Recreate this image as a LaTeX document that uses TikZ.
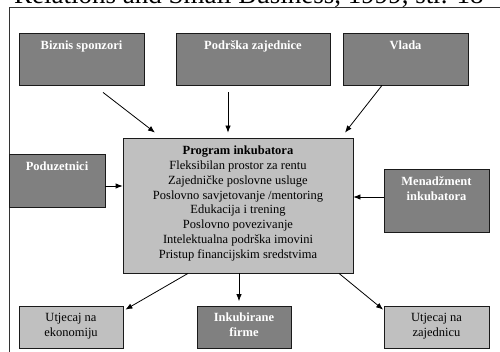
\documentclass[tikz,border=0pt]{standalone}
\usepackage{fontspec}
\setmainfont{Liberation Serif}
\usetikzlibrary{arrows.meta,calc}
\definecolor{darkfill}{HTML}{808080}
\definecolor{lightfill}{HTML}{C0C0C0}
\definecolor{edgecol}{HTML}{1A1A1A}
\newcommand{\fsz}{\fontsize{12.5}{14.8}\selectfont}
\tikzset{
  boxbase/.style={draw=edgecol, line width=0.8pt, inner sep=0pt},
  darkbox/.style={boxbase, fill=darkfill},
  lightbox/.style={boxbase, fill=lightfill},
  hdrtext/.style={anchor=north, inner sep=0pt, align=center, font=\fsz\bfseries, text=white},
  bodytext/.style={anchor=north, inner sep=0pt, align=center, font=\fsz, text=black},
  arr/.style={draw=black, line width=0.8pt, -{Latex[length=7pt,width=5.5pt]}},
  framestyle/.style={draw=black!80, line width=0.9pt}
}
\begin{document}
\begin{tikzpicture}[x=1pt,y=1pt]
\useasboundingbox (0,0) rectangle (500,351);
\clip (0,0) rectangle (500,351);
\fill[white] (0,0) rectangle (500,351);
\node[anchor=base west, inner sep=0pt, font=\fontsize{27}{30}\selectfont] (ttl) at (14,347) {Relations and Small Business, 1999, str. 18};
\draw[framestyle] (9,-5) -- (9,344) -- (505,344);

% top boxes
\node[darkbox, minimum width=125, minimum height=52] (biz) at (81.5,292) {};
\node[darkbox, minimum width=154, minimum height=52] (pod) at (253,292) {};
\node[darkbox, minimum width=125, minimum height=52] (vlada) at (405.5,292) {};
% middle
\node[lightbox, minimum width=230, minimum height=135] (prog) at (238,145.5) {};
\node[darkbox, minimum width=96, minimum height=53] (podu) at (57,170.5) {};
\node[darkbox, minimum width=105, minimum height=63] (men) at (436.5,150.5) {};
% bottom
\node[lightbox, minimum width=104, minimum height=42] (ek) at (71,24) {};
\node[darkbox, minimum width=94, minimum height=42] (ink) at (244,24) {};
\node[lightbox, minimum width=105, minimum height=42] (zaj) at (436.5,24) {};

% texts
\node[hdrtext] (biz-t) at ([yshift=-6.6pt]biz.north) {\strut Biznis sponzori};
\node[hdrtext] (pod-t) at ([yshift=-6.6pt]pod.north) {\strut Podrška zajednice};
\node[hdrtext] (vlada-t) at ([yshift=-6.6pt]vlada.north) {\strut Vlada};
\node[hdrtext] (podu-t) at ([yshift=-6.6pt]podu.north) {\strut Poduzetnici};
\node[hdrtext] (men-t) at ([yshift=-6.6pt]men.north) {\strut Menadžment\\inkubatora};
\node[bodytext] (prog-t) at ([yshift=-6.6pt]prog.north) {\strut\textbf{Program inkubatora}\\Fleksibilan prostor za rentu\\Zajedničke poslovne usluge\\Poslovno savjetovanje /mentoring\\Edukacija i trening\\Poslovno povezivanje\\Intelektualna podrška imovini\\Pristup financijskim sredstvima};
\node[bodytext] (ek-t) at ([yshift=-5.6pt]ek.north) {\strut Utjecaj na\\ekonomiju};
\node[hdrtext] (ink-t) at ([yshift=-5.6pt]ink.north) {\strut Inkubirane\\firme};
\node[bodytext] (zaj-t) at ([yshift=-5.6pt]zaj.north) {\strut Utjecaj na\\zajednicu};

% connectors
\draw[arr] ([xshift=21.5pt,yshift=-7pt]biz.south) -- ([xshift=-83pt,yshift=5pt]prog.north);
\draw[arr] ([xshift=-25pt,yshift=-7pt]pod.south) -- ([xshift=-10pt,yshift=5pt]prog.north);
\draw[arr] ([xshift=-23.5pt]vlada.south) -- ([xshift=107pt,yshift=5pt]prog.north);
\draw[arr] ([yshift=-5.5pt]podu.east) -- ([yshift=-5.5pt]podu.east -| prog.west);
\draw[arr] ([yshift=3.5pt]men.west) -- ([yshift=3.5pt]men.west -| prog.east);
\draw[arr] ([xshift=-50pt]prog.south) -- ([xshift=2pt,yshift=-4pt]ek.north east);
\draw[arr] ([xshift=1pt]prog.south) -- ([xshift=-5pt,yshift=4.5pt]ink.north);
\draw[arr] ([xshift=101pt]prog.south) -- ([xshift=-0.5pt,yshift=-4pt]zaj.north west);
\end{tikzpicture}
\end{document}
